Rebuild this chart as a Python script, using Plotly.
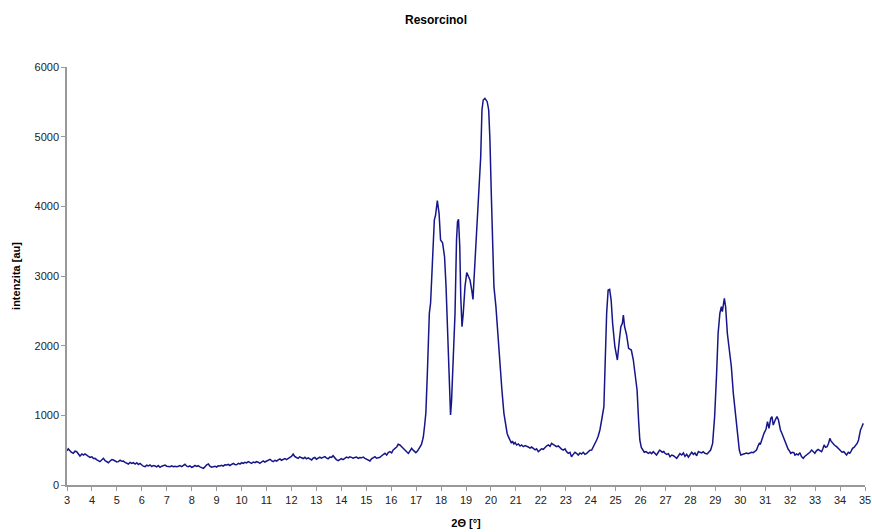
import plotly.graph_objects as go

# X-ray powder diffraction pattern of resorcinol
two_theta = [
    3.00, 3.05, 3.10, 3.17, 3.25, 3.32, 3.39, 3.45, 3.52, 3.60, 3.66, 3.72, 3.80, 3.86, 3.92,
    4.00, 4.06, 4.12, 4.20, 4.26, 4.32, 4.39, 4.46, 4.53, 4.60, 4.66, 4.73, 4.80, 4.86, 4.93,
    5.00, 5.06, 5.13, 5.20, 5.26, 5.33, 5.40, 5.46, 5.53, 5.60, 5.66, 5.73, 5.80, 5.86, 5.93,
    6.00, 6.06, 6.13, 6.20, 6.26, 6.33, 6.40, 6.46, 6.53, 6.60, 6.66, 6.73, 6.80, 6.86, 6.93,
    7.00, 7.06, 7.13, 7.20, 7.26, 7.33, 7.40, 7.47, 7.53, 7.60, 7.66, 7.73, 7.80, 7.86, 7.93,
    8.00, 8.06, 8.13, 8.20, 8.26, 8.33, 8.40, 8.47, 8.53, 8.60, 8.67, 8.73, 8.80, 8.87, 8.93,
    9.00, 9.06, 9.13, 9.20, 9.26, 9.33, 9.40, 9.47, 9.53, 9.60, 9.67, 9.73, 9.80, 9.87, 9.94,
    10.00, 10.07, 10.13, 10.20, 10.27, 10.33, 10.40, 10.47, 10.54, 10.60, 10.67, 10.73, 10.80, 10.87, 10.93,
    11.00, 11.07, 11.14, 11.20, 11.27, 11.34, 11.41, 11.47, 11.54, 11.60, 11.67, 11.74, 11.80, 11.87, 11.94,
    12.00, 12.07, 12.13, 12.20, 12.27, 12.33, 12.40, 12.47, 12.54, 12.60, 12.67, 12.74, 12.81, 12.87, 12.94,
    13.00, 13.07, 13.14, 13.20, 13.27, 13.34, 13.40, 13.47, 13.54, 13.61, 13.67, 13.74, 13.80, 13.88, 13.94,
    14.00, 14.07, 14.15, 14.21, 14.28, 14.34, 14.41, 14.47, 14.54, 14.61, 14.68, 14.74, 14.81, 14.88, 14.95,
    15.01, 15.08, 15.15, 15.21, 15.28, 15.35, 15.41, 15.48, 15.55, 15.62, 15.68, 15.75, 15.82, 15.88, 15.95,
    16.02, 16.08, 16.15, 16.22, 16.28, 16.35, 16.42, 16.48, 16.55, 16.62, 16.69, 16.75, 16.82, 16.88, 16.95,
    16.99, 17.06, 17.15, 17.21, 17.26, 17.29, 17.34, 17.39, 17.45, 17.50, 17.53, 17.58, 17.65, 17.73, 17.78,
    17.85, 17.92, 17.98, 18.06, 18.14, 18.20, 18.29, 18.34, 18.38, 18.42, 18.46, 18.56, 18.62, 18.66, 18.70,
    18.75, 18.79, 18.84, 18.89, 18.96, 19.03, 19.09, 19.16, 19.23, 19.28, 19.32, 19.40, 19.48, 19.55, 19.59,
    19.64, 19.69, 19.76, 19.85, 19.91, 19.96, 20.01, 20.07, 20.12, 20.20, 20.28, 20.36, 20.44, 20.52, 20.60,
    20.65, 20.70, 20.76, 20.82, 20.86, 20.92, 20.97, 21.03, 21.10, 21.17, 21.23, 21.30, 21.37, 21.43, 21.50,
    21.57, 21.63, 21.70, 21.77, 21.83, 21.90, 21.97, 22.03, 22.10, 22.17, 22.23, 22.30, 22.37, 22.43, 22.50,
    22.57, 22.63, 22.70, 22.77, 22.83, 22.90, 22.97, 23.03, 23.10, 23.17, 23.23, 23.30, 23.37, 23.43, 23.50,
    23.57, 23.63, 23.70, 23.77, 23.84, 23.90, 23.97, 24.04, 24.10, 24.17, 24.24, 24.30, 24.37, 24.44, 24.48,
    24.53, 24.58, 24.64, 24.70, 24.76, 24.82, 24.88, 24.97, 25.02, 25.07, 25.15, 25.21, 25.27, 25.31, 25.36,
    25.44, 25.52, 25.58, 25.63, 25.71, 25.79, 25.86, 25.92, 25.97, 26.03, 26.08, 26.15, 26.22, 26.31, 26.38,
    26.44, 26.51, 26.58, 26.64, 26.71, 26.76, 26.80, 26.87, 26.93, 26.98, 27.05, 27.12, 27.18, 27.25, 27.32,
    27.38, 27.45, 27.52, 27.58, 27.65, 27.72, 27.78, 27.85, 27.92, 27.98, 28.05, 28.12, 28.18, 28.25, 28.32,
    28.38, 28.45, 28.51, 28.58, 28.67, 28.74, 28.81, 28.89, 28.97, 29.05, 29.11, 29.18, 29.24, 29.28, 29.32,
    29.36, 29.41, 29.48, 29.56, 29.64, 29.72, 29.80, 29.88, 29.96, 30.02, 30.10, 30.18, 30.25, 30.32, 30.38,
    30.45, 30.52, 30.58, 30.65, 30.71, 30.76, 30.80, 30.85, 30.90, 30.95, 31.03, 31.09, 31.15, 31.22, 31.27,
    31.32, 31.40, 31.47, 31.53, 31.61, 31.67, 31.72, 31.78, 31.83, 31.88, 31.92, 31.97, 32.02, 32.08, 32.15,
    32.19, 32.26, 32.32, 32.39, 32.45, 32.52, 32.58, 32.65, 32.72, 32.79, 32.86, 32.92, 32.99, 33.05, 33.12,
    33.19, 33.26, 33.31, 33.36, 33.42, 33.48, 33.54, 33.59, 33.64, 33.70, 33.78, 33.86, 33.94, 34.02, 34.08,
    34.15, 34.21, 34.26, 34.33, 34.39, 34.45, 34.50, 34.56, 34.63, 34.69, 34.74, 34.78, 34.82, 34.88, 34.93,
]

intensity = [
    490, 520, 500, 470, 455, 485, 478, 440, 416, 445, 430, 445, 420, 410, 397,
    405, 380, 383, 360, 345, 335, 360, 383, 350, 330, 320, 345, 365, 359, 340,
    330, 335, 355, 340, 344, 325, 315, 301, 325, 310, 320, 300, 320, 295, 311,
    285, 270, 263, 285, 275, 287, 265, 280, 273, 260, 280, 254, 270, 280, 287,
    270, 262, 263, 275, 262, 268, 263, 270, 280, 265, 285, 297, 270, 262, 275,
    254, 262, 280, 268, 277, 260, 250, 239, 260, 290, 301, 270, 255, 263, 270,
    258, 275, 273, 282, 270, 290, 287, 295, 280, 300, 311, 295, 290, 310, 301,
    320, 310, 325, 318, 335, 320, 310, 330, 320, 335, 328, 310, 335, 345, 330,
    340, 355, 369, 350, 335, 355, 344, 360, 375, 355, 369, 380, 365, 385, 397,
    410, 445, 410, 395, 383, 405, 390, 380, 397, 375, 390, 370, 359, 385, 395,
    370, 383, 400, 385, 395, 407, 390, 375, 400, 397, 420, 390, 365, 349, 370,
    380, 365, 383, 400, 390, 405, 397, 385, 395, 400, 383, 395, 390, 400, 383,
    370, 360, 344, 375, 395, 407, 385, 390, 397, 420, 440, 455, 430, 465, 478,
    460, 502, 520, 545, 584, 574, 550, 525, 500, 478, 455, 490, 526, 500, 478,
    464, 490, 545, 580, 646, 693, 850, 1033, 1600, 2200, 2464, 2612, 3230, 3804, 3875,
    4081, 3900, 3517, 3478, 3277, 2847, 1985, 1450, 1005, 1200, 1507, 2464, 3517, 3780, 3813,
    3420, 2703, 2272, 2464, 2847, 3048, 2990, 2942, 2799, 2665, 2942, 3420, 3994, 4377, 4712,
    5383, 5526, 5550, 5502, 5383, 4952, 4234, 3517, 2847, 2560, 2129, 1842, 1364, 1029, 837,
    740, 694, 646, 600, 630, 590, 610, 574, 590, 560, 575, 550, 565, 550, 545,
    530, 545, 526, 505, 520, 478, 500, 520, 512, 540, 560, 575, 555, 598, 580,
    565, 550, 560, 530, 515, 502, 520, 480, 455, 470, 406, 440, 470, 455, 430,
    460, 445, 470, 440, 455, 475, 500, 502, 545, 580, 646, 700, 790, 933, 1052,
    1124, 1747, 2464, 2799, 2808, 2655, 2320, 1985, 1850, 1794, 2081, 2272, 2320, 2440, 2272,
    2153, 1962, 1950, 1938, 1794, 1555, 1364, 933, 646, 540, 502, 470, 480, 455, 470,
    450, 478, 455, 430, 470, 500, 493, 470, 480, 455, 440, 450, 406, 430, 420,
    400, 383, 420, 450, 430, 460, 410, 440, 400, 430, 470, 440, 460, 420, 480,
    469, 460, 478, 455, 445, 470, 502, 598, 981, 1603, 2177, 2464, 2560, 2488, 2608,
    2680, 2560, 2177, 1938, 1699, 1316, 1029, 742, 502, 430, 440, 445, 460, 450, 455,
    470, 464, 480, 502, 560, 598, 580, 646, 700, 742, 799, 909, 813, 957, 981,
    861, 933, 981, 933, 790, 740, 694, 640, 574, 540, 512, 490, 455, 470, 464,
    430, 445, 430, 464, 410, 383, 410, 430, 445, 470, 502, 480, 455, 490, 512,
    495, 478, 520, 574, 540, 550, 600, 670, 630, 598, 570, 550, 520, 502, 470,
    478, 445, 430, 470, 455, 490, 526, 540, 574, 600, 646, 720, 790, 840, 885,
]

x_ticks = list(range(3, 36))
y_ticks = [0, 1000, 2000, 3000, 4000, 5000, 6000]

fig = go.Figure(
    go.Scatter(
        x=two_theta,
        y=intensity,
        mode="lines",
        line=dict(color="#16168a", width=1.5),
        hoverinfo="x+y",
    )
)

font_family = "Liberation Sans, Arial, sans-serif"
axis_font = dict(family=font_family, size=11, color="#222222")
title_font = dict(family=font_family, size=11, color="#000000")

fig.update_layout(
    width=872,
    height=532,
    margin=dict(l=67, r=7, t=67, b=47),
    paper_bgcolor="white",
    plot_bgcolor="white",
    showlegend=False,
    title=dict(
        text="<b>Resorcinol</b>",
        x=0.5,
        xanchor="center",
        y=0.962,
        yanchor="middle",
        font=dict(family=font_family, size=12, color="#000000"),
    ),
    xaxis=dict(
        range=[3, 35],
        tickvals=x_ticks,
        ticktext=[str(v) for v in x_ticks],
        ticks="outside",
        ticklen=4,
        tickcolor="#999999",
        showline=True,
        linecolor="#999999",
        linewidth=1.5,
        showgrid=False,
        zeroline=False,
        automargin=False,
        tickfont=axis_font,
        title=dict(text="<b>2Θ [°]</b>", font=title_font, standoff=14),
    ),
    yaxis=dict(
        range=[0, 6000],
        tickvals=y_ticks,
        ticktext=[str(v) for v in y_ticks],
        ticks="outside",
        ticklen=4,
        tickcolor="#999999",
        showline=True,
        linecolor="#999999",
        linewidth=1.5,
        showgrid=False,
        zeroline=False,
        automargin=False,
        tickfont=axis_font,
        title=dict(text="<b>intenzita [au]</b>", font=title_font, standoff=12),
    ),
)

fig.write_html("out.html")
